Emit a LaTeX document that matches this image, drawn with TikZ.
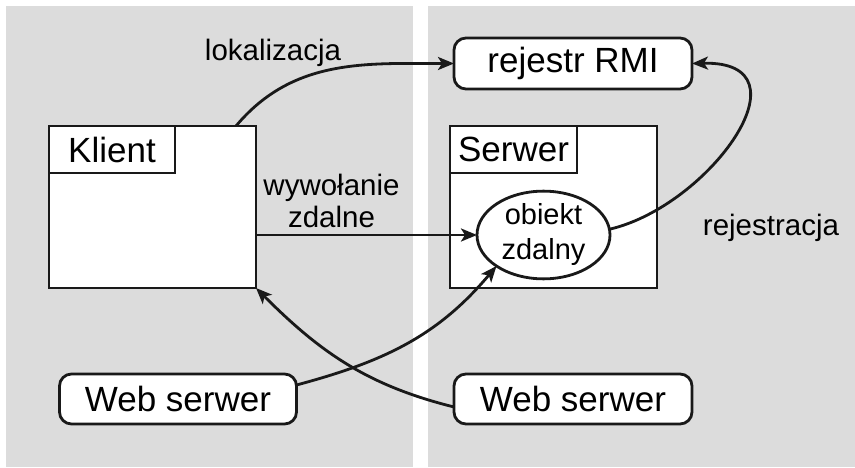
\documentclass[tikz,border=0pt]{standalone}
\usepackage{fontspec}
\setmainfont{Liberation Sans}
\usepackage{tikz}
\usetikzlibrary{arrows.meta,shapes,positioning}
\definecolor{PanelGray}{RGB}{220,220,220}

\begin{document}
\begin{tikzpicture} [x=1pt, y=1pt,
       >={Stealth[length=16pt,width=13pt,inset=4pt]}, black!90, text=black, line width=2.8pt,
       every node/.style={outer sep=0pt, inner sep=0pt},
       panel/.style={fill=PanelGray, draw=none},
       hostbox/.style={rectangle, draw, fill=white, minimum width=207pt, minimum height=162pt},
       hosttitle/.style={rectangle, draw, fill=white, minimum width=#1, minimum height=47pt,
                         font=\fontsize{35}{38}\selectfont},
       service/.style={rectangle, rounded corners=12pt, draw, fill=white,
                       minimum width=237pt, minimum height=50pt, font=\fontsize{35}{38}\selectfont},
       remoteobj/.style={ellipse, draw, fill=white, minimum width=133pt, minimum height=86pt,
                         align=center, font=\fontsize{29}{35}\selectfont},
       flowlabel/.style={align=center, font=\fontsize{29.5}{32}\selectfont}]
	\useasboundingbox (0,0) rectangle (855,467);
	%% Panels
	\fill [panel] (6,0) rectangle (413,461);
	\fill [panel] (428,0) rectangle (855,461);

	%% Client side
	\node [hostbox] (klient) at (152.5,260) {};
	\node [hosttitle=126pt, below right=0pt and 0pt of klient.north west] (klient_title) {Klient};
	\node [service] (web_l) at (178,68) {Web serwer};

	%% Server side
	\node [hostbox] (serwer) at (553.5,260) {};
	\node [hosttitle=127pt, below right=0pt and 0pt of serwer.north west] (serwer_title) {Serwer};
	\node [remoteobj] (obiekt) at (543.5,232) {obiekt\\zdalny};
	\node [service, minimum width=238pt, minimum height=51pt] (rmi) at (573,403.5) {rejestr RMI\hspace{16pt}};
	\node [service, minimum width=238pt] (web_r) at (573,68) {Web serwer};

	%% Labels
	\node [flowlabel, anchor=base] (lok_lbl) at (273,406) {lokalizacja};
	\node [flowlabel] (wyw_lbl) at (331.5,266) {wywołanie\\zdalne};
	\node [flowlabel, anchor=base] (rej_lbl) at (771,232) {rejestracja};

	%% Paths
	\draw[->] ([xshift=-20pt]klient.north east) to[out=50,in=180] (rmi.west);
	\draw[->] (obiekt.west -| klient.east) -- (obiekt.west);
	\draw[->] (obiekt.5) .. controls +(100,23) and +(122,3) .. (rmi.east);
	\draw[->] ([yshift=14pt]web_l.east) to[out=15,in=230] (obiekt.south west);
	\draw[->] ([yshift=-8pt]web_r.west) to[out=166,in=-45] (klient.south east);
\end{tikzpicture}
\end{document}
